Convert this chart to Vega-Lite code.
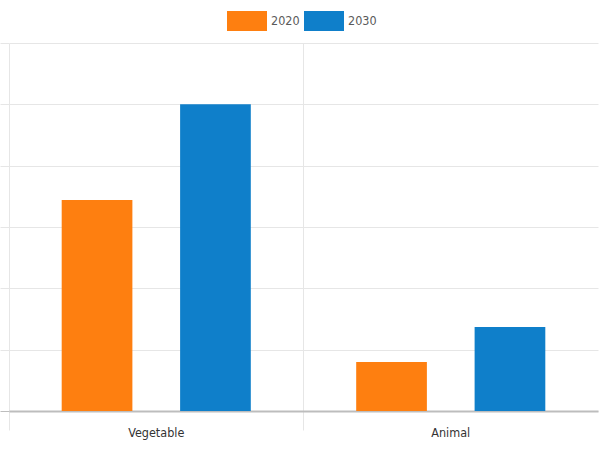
{
  "$schema": "https://vega.github.io/schema/vega-lite/v6.json",
  "width": 589,
  "height": 368,
  "autosize": {"type": "none"},
  "padding": {"left": 9, "top": 43, "right": 2, "bottom": 41},
  "background": "white",
  "data": {"values": [
    {"type": "Vegetable", "year": "2020", "value": 34.4},
    {"type": "Vegetable", "year": "2030", "value": 50.0},
    {"type": "Animal", "year": "2020", "value": 8.0},
    {"type": "Animal", "year": "2030", "value": 13.7}
  ]},
  "mark": {"type": "bar"},
  "encoding": {
    "x": {
      "field": "type", "type": "nominal", "sort": ["Vegetable", "Animal"],
      "scale": {"paddingInner": 0, "paddingOuter": 0},
      "axis": {
        "title": null, "labelAngle": 0, "bandPosition": 0,
        "grid": true, "gridColor": "#e6e6e6", "gridWidth": 1,
        "ticks": true, "tickSize": 19, "tickColor": "#e6e6e6", "tickWidth": 1,
        "domain": true, "domainColor": "#bdbdbd", "domainWidth": 2,
        "labelFont": "DejaVu Sans Condensed, Roboto, Liberation Sans", "labelFontSize": 12.5, "labelColor": "#333333",
        "labelPadding": -4
      }
    },
    "xOffset": {
      "field": "year", "type": "nominal",
      "scale": {"paddingInner": 0.403, "paddingOuter": 0.445}
    },
    "y": {
      "field": "value", "type": "quantitative",
      "scale": {"domain": [0, 60], "nice": false},
      "axis": {
        "title": null, "labels": false, "domain": false,
        "values": [0, 10, 20, 30, 40, 50, 60],
        "grid": true, "gridColor": "#e6e6e6", "gridWidth": 1,
        "ticks": true, "tickSize": 9,
        "tickColor": {"condition": {"test": "datum.value === 0", "value": "#bdbdbd"}, "value": "#e6e6e6"}
      }
    },
    "color": {
      "field": "year", "type": "nominal",
      "scale": {"domain": ["2020", "2030"], "range": ["#fe7f10", "#0f7fca"]},
      "legend": {
        "title": null, "orient": "none", "direction": "horizontal",
        "legendX": 228, "legendY": -32, "padding": 0,
        "symbolType": "M-2,-1H2V1H-2Z", "symbolSize": 400, "symbolStrokeWidth": 0,
        "labelOffset": 14, "columnPadding": 4,
        "labelFont": "DejaVu Sans Condensed, Roboto, Liberation Sans", "labelFontSize": 12.5, "labelColor": "#5a5a5a"
      }
    }
  },
  "config": {"view": {"stroke": null}}
}
